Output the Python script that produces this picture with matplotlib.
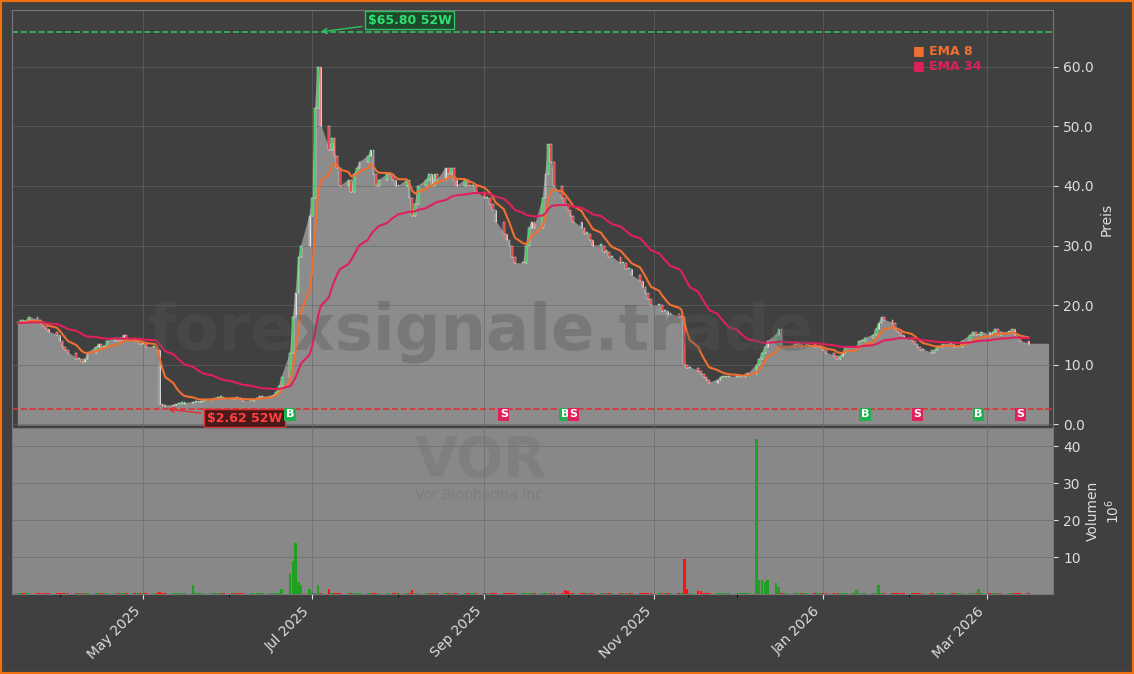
import numpy as np
import pandas as pd
import matplotlib.pyplot as plt
import matplotlib.dates as mdates
from matplotlib.patches import Rectangle

# daily closes, one row per month, starting 2025-03-17
closes = [
    17, 17.5, 17, 17.5, 18, 17.5, 17, 16.5, 16, 15.5, 15,
    14, 13, 12.5, 12, 11, 11, 10.5, 11, 12, 13, 13.5, 13, 13, 14, 14.5, 14, 14.5, 15, 14.5, 14, 14, 13.5,
    13.5, 13, 13, 12.5, 3.5, 3.2, 3.1, 3.3, 3.4, 3.5, 3.5, 3.6, 3.7, 3.8, 3.8, 4, 4.1, 4.3, 4.4, 4.5, 4.5, 4.4,
    4.3, 4.5, 4.4, 4.2, 4.0, 4.0, 4.2, 4.5, 4.6, 4.6, 4.8, 5, 5.5, 6.5, 8, 12, 18, 22, 28, 30, 35,
    38, 53, 60, 50, 46, 48, 45, 43, 40, 41, 39, 42, 43, 44, 45, 46, 42, 40, 41, 42, 42, 41, 40,
    40, 41, 38, 35, 37, 40, 41, 42, 40, 42, 41, 43, 42, 43, 41, 40, 41, 40, 40, 40, 39,
    38, 38, 37, 36, 34, 32, 31, 30, 28, 27, 27, 30, 33, 34, 33, 38, 42, 47, 44, 40, 38, 37,
    36, 35, 34, 33, 32, 32, 31, 30, 30, 29, 29, 28, 28, 27, 27, 26, 26, 25, 24, 23, 22, 21, 20,
    20, 19, 19, 18.5, 18.5, 18, 18, 10, 9.5, 9.5, 9, 8.5, 8, 7.5, 7, 7.5, 8, 8, 8, 8,
    8, 8, 8, 8.5, 8.5, 10, 11, 12, 13, 14, 15, 16, 13, 13, 13, 13.5, 13.5, 13, 13, 13.5, 13, 13, 13,
    12.5, 12, 11.5, 11, 11.5, 12, 13, 13, 13, 14, 14, 14.5, 15, 16, 17, 18, 17.5, 17, 16, 15.5, 15, 14.5,
    14, 13.5, 13, 12.5, 12.5, 12, 12.5, 13, 13, 13.5, 13.5, 13, 13, 13, 14, 15, 15.5, 15, 15, 15.5,
    15, 15.5, 16, 15, 15.5, 15.5, 16, 15, 14.5, 14, 13.5,
]
dates = pd.bdate_range('2025-03-17', periods=len(closes))

# volume spikes in millions (others small)
vol_base = 0.4
vol_spikes = {
    '2025-05-07': 0.8, '2025-05-19': 2.5, '2025-06-20': 1.5, '2025-06-23': 5.5,
    '2025-06-24': 9.0, '2025-06-25': 14.0, '2025-06-26': 3.5, '2025-06-27': 2.5,
    '2025-06-30': 1.5, '2025-07-03': 2.5, '2025-07-07': 1.5, '2025-08-06': 1.2,
    '2025-09-30': 1.2, '2025-10-01': 1.0, '2025-11-12': 9.5, '2025-11-13': 1.5,
    '2025-11-17': 1.0, '2025-11-18': 1.0, '2025-12-08': 42.0, '2025-12-09': 4.0,
    '2025-12-10': 4.0, '2025-12-11': 3.5, '2025-12-12': 4.0, '2025-12-15': 3.0,
    '2025-12-16': 2.0, '2026-01-13': 1.2, '2026-01-21': 2.5, '2026-02-26': 1.5,
}
volumes = [vol_spikes.get(d.strftime('%Y-%m-%d'), vol_base) for d in dates]

buy_dates = ['2025-06-23', '2025-09-30', '2026-01-16', '2026-02-26']
sell_dates = ['2025-09-08', '2025-10-03', '2026-02-04', '2026-03-13']
high_52w, low_52w = 65.80, 2.62

c = pd.Series(closes, index=dates)
o = c.shift(1).fillna(c.iloc[0])
ema8 = c.ewm(span=8, adjust=False).mean()
ema34 = c.ewm(span=34, adjust=False).mean()

BG = '#404040'
fig = plt.figure(figsize=(11.34, 6.74), dpi=100, facecolor=BG)
fig.patches.append(Rectangle((0, 0), 1, 1, transform=fig.transFigure, fill=False,
                             edgecolor='#f07010', linewidth=3))
ax = fig.add_axes([0.011, 0.365, 0.918, 0.62])
axv = fig.add_axes([0.011, 0.118, 0.918, 0.247], sharex=ax)

ax.set_facecolor(BG)
axv.set_facecolor('#888888')
ax.fill_between(list(dates) + [pd.Timestamp('2026-03-23')], 0, closes + [closes[-1]],
                color='#8c8c8c', zorder=1)
w = 0.6
for d, oo, cc in zip(dates, o.values, c.values):
    col = '#20c040' if cc >= oo else '#e02020'
    lo, hi = min(oo, cc), max(oo, cc)
    ax.vlines(d, lo, hi, color='white', linewidth=0.5, zorder=2)
    ax.add_patch(Rectangle((mdates.date2num(d) - w / 2, lo), w, max(hi - lo, 0.2),
                           facecolor=col, edgecolor='white', linewidth=0.3, zorder=3))
ax.plot(dates, ema8.values, color='#f07030', linewidth=1.5, zorder=4)
ax.plot(dates, ema34.values, color='#e0205a', linewidth=1.5, zorder=4)
ax.axhline(high_52w, color='#30c060', linestyle='--', linewidth=1.2)
ax.axhline(low_52w, color='#e03030', linestyle='--', linewidth=1.2)

hi_d = dates[int(np.argmax(closes))]
ax.annotate(f'${high_52w:.2f} 52W', xy=(hi_d, high_52w), xytext=(pd.Timestamp('2025-07-21'), 67.8),
            color='#30e070', fontsize=9, fontweight='bold', va='center',
            bbox=dict(boxstyle='square,pad=0.2', fc='#1d4a2a', ec='#30c060'),
            arrowprops=dict(arrowstyle='->', color='#30c060'))
ax.annotate(f'${low_52w:.2f} 52W', xy=(pd.Timestamp('2025-05-09'), low_52w),
            xytext=(pd.Timestamp('2025-05-24'), 1.0),
            color='#ff4040', fontsize=9, fontweight='bold', va='center',
            bbox=dict(boxstyle='square,pad=0.2', fc='#4a1a1a', ec='#e03030'),
            arrowprops=dict(arrowstyle='->', color='#e03030'))
for d in buy_dates:
    ax.text(pd.Timestamp(d), 1.7, 'B', color='white', fontsize=8, fontweight='bold',
            ha='center', va='center', zorder=6,
            bbox=dict(boxstyle='square,pad=0.15', fc='#20b050', ec='none'))
for d in sell_dates:
    ax.text(pd.Timestamp(d), 1.7, 'S', color='white', fontsize=8, fontweight='bold',
            ha='center', va='center', zorder=6,
            bbox=dict(boxstyle='square,pad=0.15', fc='#e0205a', ec='none'))

ax.text(0.865, 0.895, '■ EMA 8', transform=ax.transAxes, color='#f07030', fontsize=9, fontweight='bold')
ax.text(0.865, 0.86, '■ EMA 34', transform=ax.transAxes, color='#e0205a', fontsize=9, fontweight='bold')
ax.text(0.45, 0.23, 'forexsignale.trade', transform=ax.transAxes, fontsize=46, fontweight='bold',
        color='#555555', alpha=0.35, ha='center', va='center', zorder=5)

vcols = ['#20a020' if cc >= oo else '#ff1010' for oo, cc in zip(o.values, c.values)]
axv.bar(dates, volumes, width=0.9, color=vcols)
axv.text(0.45, 0.8, 'VOR', transform=axv.transAxes, fontsize=40, fontweight='bold',
         color='#777777', alpha=0.5, ha='center', va='center')
axv.text(0.45, 0.6, 'Vor Biopharma Inc.', transform=axv.transAxes, fontsize=10,
         color='#777777', alpha=0.6, ha='center', va='center')

ax.set_ylim(-0.6, 69.5)
ax.set_yticks(np.arange(0, 61, 10))
ax.yaxis.set_major_formatter(plt.FuncFormatter(lambda v, p: f'{v:.1f}'))
axv.set_ylim(0, 45)
axv.set_yticks([10, 20, 30, 40])
ax.set_xlim(pd.Timestamp('2025-03-15'), pd.Timestamp('2026-03-25'))
for a in (ax, axv):
    a.yaxis.tick_right()
    a.yaxis.set_label_position('right')
    a.grid(True, color='#666666', linewidth=0.6, alpha=0.7)
    a.tick_params(colors='#dddddd', labelsize=10)
    for s in a.spines.values():
        s.set_color('#777777')
ax.tick_params(axis='x', labelbottom=False)
ax.set_ylabel('Preis', color='#dddddd')
axv.set_ylabel('Volumen\n$10^6$', color='#dddddd')
axv.xaxis.set_major_locator(mdates.MonthLocator(bymonth=[5, 7, 9, 11, 1, 3]))
axv.xaxis.set_minor_locator(mdates.MonthLocator())
axv.xaxis.set_major_formatter(mdates.DateFormatter('%b %Y'))
plt.setp(axv.get_xticklabels(), rotation=45, ha='right')

fig.savefig('out.png', dpi=100, facecolor=BG)
